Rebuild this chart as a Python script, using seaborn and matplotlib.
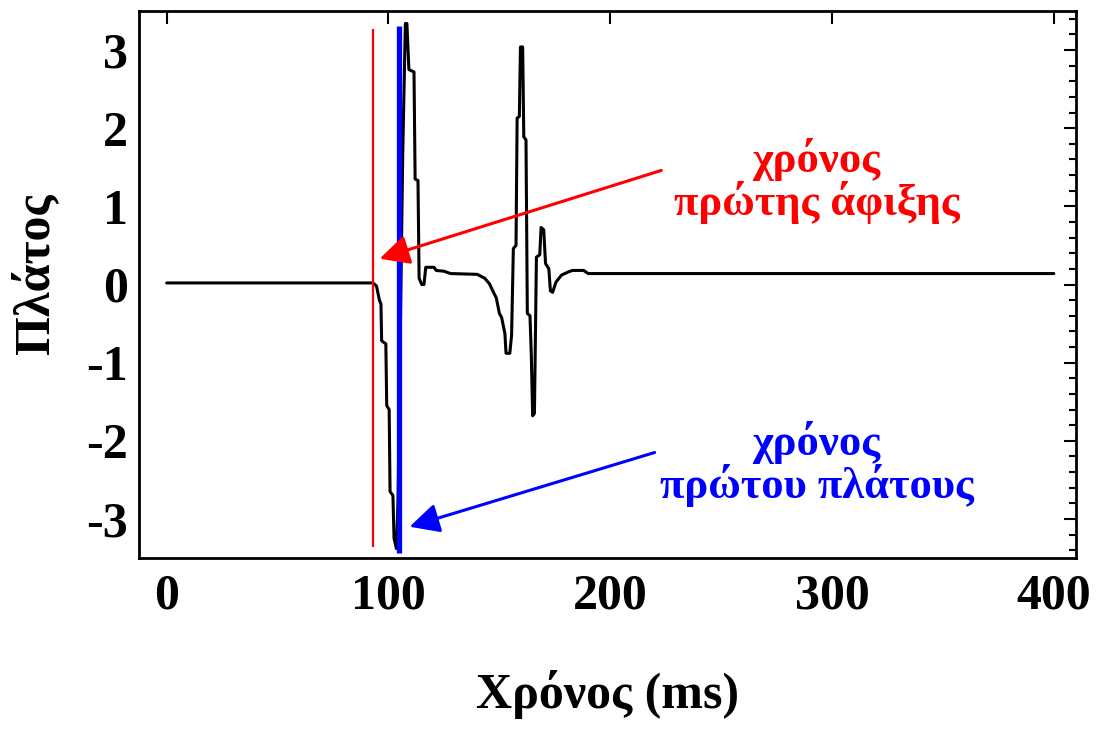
import matplotlib
matplotlib.use("Agg")
import matplotlib.pyplot as plt
from matplotlib.ticker import MultipleLocator, FixedLocator
import numpy as np
import pandas as pd
import seaborn as sns

# ---- data ----
time_ms = [0.0, 93.0, 94.6, 95.9, 96.6, 96.9, 98.8, 99.2, 100.3, 100.7, 102.0, 102.5, 103.6,
           104.3, 105.2, 106.4, 107.6, 108.3, 109.2, 111.5, 112.0, 113.3, 113.8, 115.0, 116.0,
           116.8, 120.5, 121.5, 125.0, 128.0, 140.0, 143.4, 145.5, 147.7, 148.6, 150.0, 151.0,
           152.5, 153.0, 154.7, 155.5, 156.3, 157.5, 158.0, 159.0, 159.5, 160.5, 161.0, 162.0,
           162.6, 163.8, 164.4, 165.0, 165.8, 166.7, 168.2, 168.8, 170.0, 170.8, 172.3, 173.0,
           174.0, 175.5, 178.0, 181.0, 183.0, 188.0, 190.0, 400.0]
amplitude = [0.02, 0.02, -0.02, -0.20, -0.25, -0.72, -0.76, -1.55, -1.60, -2.65, -2.70, -3.25, -3.38,
             -2.75, -0.88, 1.63, 3.34, 3.34, 2.75, 2.72, 1.35, 1.33, 0.08, 0.00, 0.00,
             0.22, 0.22, 0.18, 0.17, 0.14, 0.13, 0.08, 0.01, -0.12, -0.17, -0.37, -0.42,
             -0.63, -0.88, -0.88, -0.65, 0.46, 0.50, 2.13, 2.15, 3.04, 3.04, 1.89, 1.85,
             -0.37, -0.40, -0.91, -1.68, -1.65, 0.35, 0.38, 0.73, 0.70, 0.27, 0.20, -0.08,
             -0.10, 0.03, 0.12, 0.16, 0.18, 0.18, 0.14, 0.14]

first_arrival_ms = 93.0
first_arrival_span = (-3.36, 3.27)
first_peak_ms = 104.8
first_peak_span = (-3.44, 3.31)

x_ticks = [0, 100, 200, 300, 400]
y_ticks = [-3, -2, -1, 0, 1, 2, 3]

x_label = "Χρόνος (ms)"
y_label = "Πλάτος"
red_text = "χρόνος\nπρώτης άφιξης"
blue_text = "χρόνος\nπρώτου πλάτους"

# ---- style ----
sns.set_style("white")
plt.rcParams["font.family"] = ["Liberation Serif", "DejaVu Serif"]
plt.rcParams["font.weight"] = "bold"
plt.rcParams["axes.unicode_minus"] = False
plt.rcParams["axes.labelcolor"] = "black"
plt.rcParams["xtick.color"] = "black"
plt.rcParams["ytick.color"] = "black"
plt.rcParams["text.color"] = "black"

fig = plt.figure(figsize=(10.98, 7.29), dpi=100)
ax = fig.add_axes([139 / 1098, 1 - 558 / 729, (1076 - 139) / 1098, (558 - 11) / 729])

df = pd.DataFrame({"t": time_ms, "a": amplitude})
sns.lineplot(data=df, x="t", y="a", ax=ax, color="black", linewidth=2.2,
             sort=False, estimator=None, legend=False)

ax.vlines(first_arrival_ms, *first_arrival_span, color="red", linewidth=1.6, zorder=3)
ax.vlines(first_peak_ms, *first_peak_span, color="blue", linewidth=3.8, zorder=3)

ax.annotate("", xy=(96, 0.33), xytext=(223, 1.46),
            arrowprops=dict(arrowstyle="-|>,head_length=0.9,head_width=0.45",
                            mutation_scale=20, color="red", lw=2.2,
                            shrinkA=0, shrinkB=0), zorder=4)
ax.annotate("", xy=(109.5, -3.1), xytext=(220, -2.15),
            arrowprops=dict(arrowstyle="-|>,head_length=0.9,head_width=0.45",
                            mutation_scale=20, color="blue", lw=2.2,
                            shrinkA=0, shrinkB=0), zorder=4)

ax.text(293, 1.33, red_text, color="red", fontsize=32, fontweight="bold",
        ha="center", va="center", linespacing=1.0)
ax.text(293, -2.30, blue_text, color="blue", fontsize=32, fontweight="bold",
        ha="center", va="center", linespacing=1.0)

ax.set_xlim(-12.5, 410)
ax.set_ylim(-3.5, 3.5)
ax.xaxis.set_major_locator(FixedLocator(x_ticks))
ax.yaxis.set_major_locator(FixedLocator(y_ticks))
ax.yaxis.set_minor_locator(MultipleLocator(0.2))
ax.set_xticklabels([str(v) for v in x_ticks])
ax.set_yticklabels([str(v) for v in y_ticks])

ax.tick_params(which="both", direction="in", top=True, right=True, width=1.5,
               colors="black", labelsize=36)
ax.tick_params(which="major", length=9)
ax.tick_params(which="minor", length=5)
ax.tick_params(axis="x", pad=11)
ax.tick_params(axis="y", pad=8)
for lbl in ax.get_xticklabels() + ax.get_yticklabels():
    lbl.set_fontweight("bold")
    lbl.set_color("black")

for sp in ax.spines.values():
    sp.set_linewidth(2.0)
    sp.set_color("black")

ax.set_xlabel(x_label, fontsize=36, fontweight="bold", va="top", ha="center", color="black")
ax.xaxis.set_label_coords(0.5, -0.205)
ax.set_ylabel(y_label, fontsize=36, fontweight="bold", va="center", ha="center", color="black")
ax.yaxis.set_label_coords(-0.111, 0.52)

fig.savefig("out.png", dpi=100, facecolor="white")
